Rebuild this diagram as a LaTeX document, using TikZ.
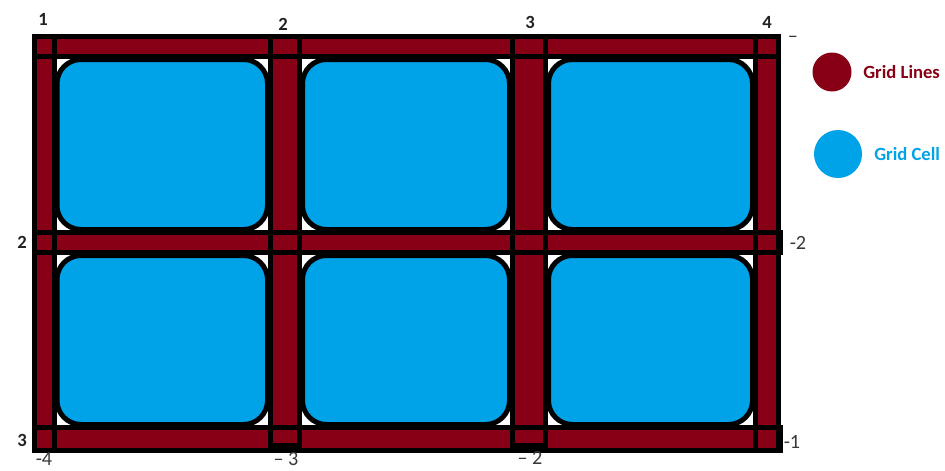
\documentclass[tikz,border=0pt]{standalone}
\usepackage{fontspec}
\setmainfont{Carlito}
\definecolor{gridred}{HTML}{880015}
\definecolor{gridblue}{HTML}{00A2E8}
\definecolor{ink}{HTML}{222222}
\tikzset{
  x=0.02cm, y=-0.02cm,
  band/.style={fill=gridred},
  bandline/.style={draw=black, line width=0.1cm},
  cellbox/.style={fill=gridblue, draw=black, line width=0.1cm, rounded corners=0.48cm},
  numlab/.style={font=\fontsize{10.6}{12}\selectfont\bfseries, text=ink, inner sep=0pt},
  neglab/.style={font=\fontsize{11.5}{13}\selectfont, text=ink!90, inner sep=0pt},
  legtext/.style={font=\fontsize{10.6}{12}\selectfont\bfseries, inner sep=0pt, anchor=west}
}
\begin{document}
\begin{tikzpicture}
\useasboundingbox (0,0) rectangle (945,470);
\fill[white] (0,0) rectangle (945,470);
% cells
\foreach \xa/\xb in {57/267.5, 302.5/509.5, 548.5/752.5}{
  \foreach \ya/\yb in {59.5/229.5, 255.5/424.5}{
    \draw[cellbox] (\xa,\ya) rectangle (\xb,\yb);
  }
}
% band fills
\foreach \a/\b/\c/\d in {34.5/36/778.5/56.5, 34.5/232.5/780.5/252.5, 34.5/427.5/780.5/450,
  34.5/36/54/450, 270.5/36/299.5/445, 512.5/36/545.5/445, 755.5/36/778.5/450}{
  \fill[band] (\a,\b) rectangle (\c,\d);
}
% band outlines
\foreach \a/\b/\c/\d in {34.5/36/778.5/56.5, 34.5/232.5/780.5/252.5, 34.5/427.5/780.5/450,
  34.5/36/54/450, 270.5/36/299.5/445, 512.5/36/545.5/445, 755.5/36/778.5/450}{
  \draw[bandline] (\a,\b) rectangle (\c,\d);
}
% top labels
\node[numlab] (t1) at (43,19) {1};
\node[numlab] (t2) at (283,24) {2};
\node[numlab] (t3) at (530,22) {3};
\node[numlab] (t4) at (767,22) {4};
\node[numlab] (l2) at (22,242) {2};
\node[numlab] (l3) at (22,440) {3};
% negative labels
\node[neglab] (r0) at (793,39) {–};
\node[neglab] (r2) at (798,243) {-2};
\node[neglab] (r1) at (792,442) {-1};
\node[neglab] (b4) at (44,459) {-4};
\node[neglab] (b3) at (286,459) {– 3};
\node[neglab] (b2) at (530,458) {– 2};
% legend
\fill[gridred] (832,72) circle (19.5);
\node[legtext, text=gridred] (leg1) at (863,72) {Grid Lines};
\fill[gridblue] (838,154) circle (24);
\node[legtext, text=gridblue] (leg2) at (874,154) {Grid Cell};
\end{tikzpicture}
\end{document}
